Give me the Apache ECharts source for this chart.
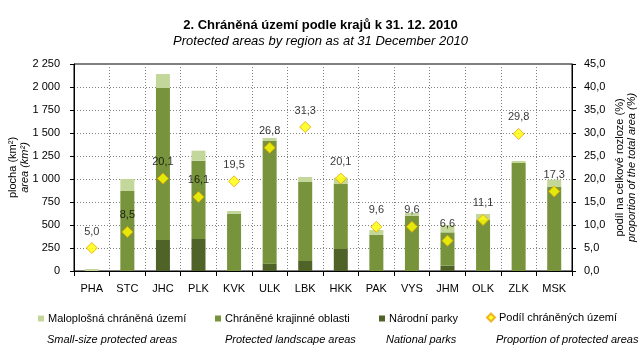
<!DOCTYPE html>
<html><head><meta charset="utf-8">
<script src="https://cdn.jsdelivr.net/npm/echarts@6/dist/echarts.min.js"></script>
<style>html,body{margin:0;padding:0;background:#fff}#c{width:641px;height:364px}</style>
</head><body><div id="c"></div>
<script>
var categories = ['PHA','STC','JHC','PLK','KVK','ULK','LBK','HKK','PAK','VYS','JHM','OLK','ZLK','MSK'];
var nationalParks = [0,0,337,348,0,80,109,239,0,0,58,0,0,0];
var landscapeAreas = [0,870,1652,851,620,1333,858,706,395,600,362,554,1174,913];
var smallAreas = [22,130,152,109,32,33,55,70,51,30,80,66,22,80];
var shareOfArea = [5.0,8.5,20.1,16.1,19.5,26.8,31.3,20.1,9.6,9.6,6.6,11.1,29.8,17.3];
var leftTicks = {min:0,max:2250,interval:250};
var rightTicks = {min:0,max:45,interval:5};

var FONT = '"Liberation Sans", Arial, sans-serif';
var cLight = '#c4d79b', cMid = '#77933c', cDark = '#4f6228';
var chart = echarts.init(document.getElementById('c'), null, {renderer:'canvas'});
function comma(v){ return v.toFixed(1).replace('.', ','); }
var legendBase = {itemWidth:6,itemHeight:6,itemGap:0,padding:0,textStyle:{fontFamily:FONT,fontSize:11,color:'#000',padding:[0,0,0,-1]}};
function lg(name,left,icon){ return Object.assign({}, legendBase, {data:[{name:name,icon:icon||'rect'}],left:left,top:313,selectedMode:false}); }
chart.setOption({
  animation:false,
  textStyle:{fontFamily:FONT},
  title:{text:'2. Chráněná území podle krajů k 31. 12. 2010',subtext:'Protected areas by region as at 31 December 2010',
    left:'center',top:14,itemGap:3,
    textStyle:{fontFamily:FONT,fontSize:13,fontWeight:'bold',color:'#000'},
    subtextStyle:{fontFamily:FONT,fontSize:13,fontStyle:'italic',color:'#000'}},
  grid:{left:74,right:69,top:64,bottom:93,show:true,borderColor:'#000',borderWidth:1,containLabel:false,outerBoundsMode:'none'},
  legend:[lg('Maloplošná chráněná území',38),lg('Chráněné krajinné oblasti',215),lg('Národní parky',379),
          Object.assign(lg('Podíl chráněných území',486,'diamond'),{itemWidth:8,itemHeight:8,top:312})],
  graphic:[
    {type:'text',left:47,top:334,style:{text:'Small-size protected areas',font:'italic 11px '+FONT,fill:'#000'}},
    {type:'text',left:225,top:334,style:{text:'Protected landscape areas',font:'italic 11px '+FONT,fill:'#000'}},
    {type:'text',left:386,top:334,style:{text:'National parks',font:'italic 11px '+FONT,fill:'#000'}},
    {type:'text',left:496,top:334,style:{text:'Proportion of protected areas',font:'italic 11px '+FONT,fill:'#000'}}
  ],
  xAxis:{type:'category',data:categories,boundaryGap:true,
    axisLine:{lineStyle:{color:'#000'}},axisTick:{show:true,length:5,inside:false,lineStyle:{color:'#000'}},
    axisLabel:{fontFamily:FONT,fontSize:11,color:'#000',margin:12},
    splitLine:{show:true,lineStyle:{color:'#808080',type:[1,2],width:1}}},
  yAxis:[
    {type:'value',min:leftTicks.min,max:leftTicks.max,interval:leftTicks.interval,
     name:'{a|plocha (km²)}\n{b|area (km²)}',nameLocation:'middle',nameGap:43,nameRotate:90,nameMoveOverlap:false,
     nameTextStyle:{rich:{a:{fontFamily:FONT,fontSize:11,color:'#000',lineHeight:12},b:{fontFamily:FONT,fontSize:11,fontStyle:'italic',color:'#000',lineHeight:12}}},
     axisLine:{show:true,lineStyle:{color:'#000'}},axisTick:{show:true,length:4,lineStyle:{color:'#000'}},
     axisLabel:{fontFamily:FONT,fontSize:11,color:'#000',margin:14,formatter:function(v){return String(v).replace(/\B(?=(\d{3})+(?!\d))/g,' ');}},
     splitLine:{show:true,lineStyle:{color:'#808080',type:[1,2],width:1}}},
    {type:'value',min:rightTicks.min,max:rightTicks.max,interval:rightTicks.interval,position:'right',
     name:'{a|podíl na celkové rozloze (%)}\n{b|proportion of the total area (%)}',nameLocation:'middle',nameGap:42,nameRotate:90,nameMoveOverlap:false,
     nameTextStyle:{rich:{a:{fontFamily:FONT,fontSize:11,color:'#000',lineHeight:12},b:{fontFamily:FONT,fontSize:11,fontStyle:'italic',color:'#000',lineHeight:12}}},
     axisLine:{show:true,lineStyle:{color:'#000'}},axisTick:{show:true,length:4,lineStyle:{color:'#000'}},
     axisLabel:{fontFamily:FONT,fontSize:11,color:'#000',margin:12,formatter:function(v){return comma(v);}},
     splitLine:{show:false}}
  ],
  series:[
    {name:'Národní parky',type:'bar',stack:'a',data:nationalParks,barWidth:14,itemStyle:{color:cDark}},
    {name:'Chráněné krajinné oblasti',type:'bar',stack:'a',data:landscapeAreas,barWidth:14,itemStyle:{color:cMid}},
    {name:'Maloplošná chráněná území',type:'bar',stack:'a',data:smallAreas,barWidth:14,itemStyle:{color:cLight}},
    {name:'Podíl chráněných území',type:'scatter',yAxisIndex:1,data:shareOfArea,symbol:'diamond',symbolSize:11,
     itemStyle:{color:'#ffff00',borderColor:'#e8a400',borderWidth:1},z:5,
     label:{show:true,position:'top',distance:5,fontFamily:FONT,fontSize:11,color:'#000',formatter:function(p){return comma(p.value);}}}
  ]
});
</script></body></html>
